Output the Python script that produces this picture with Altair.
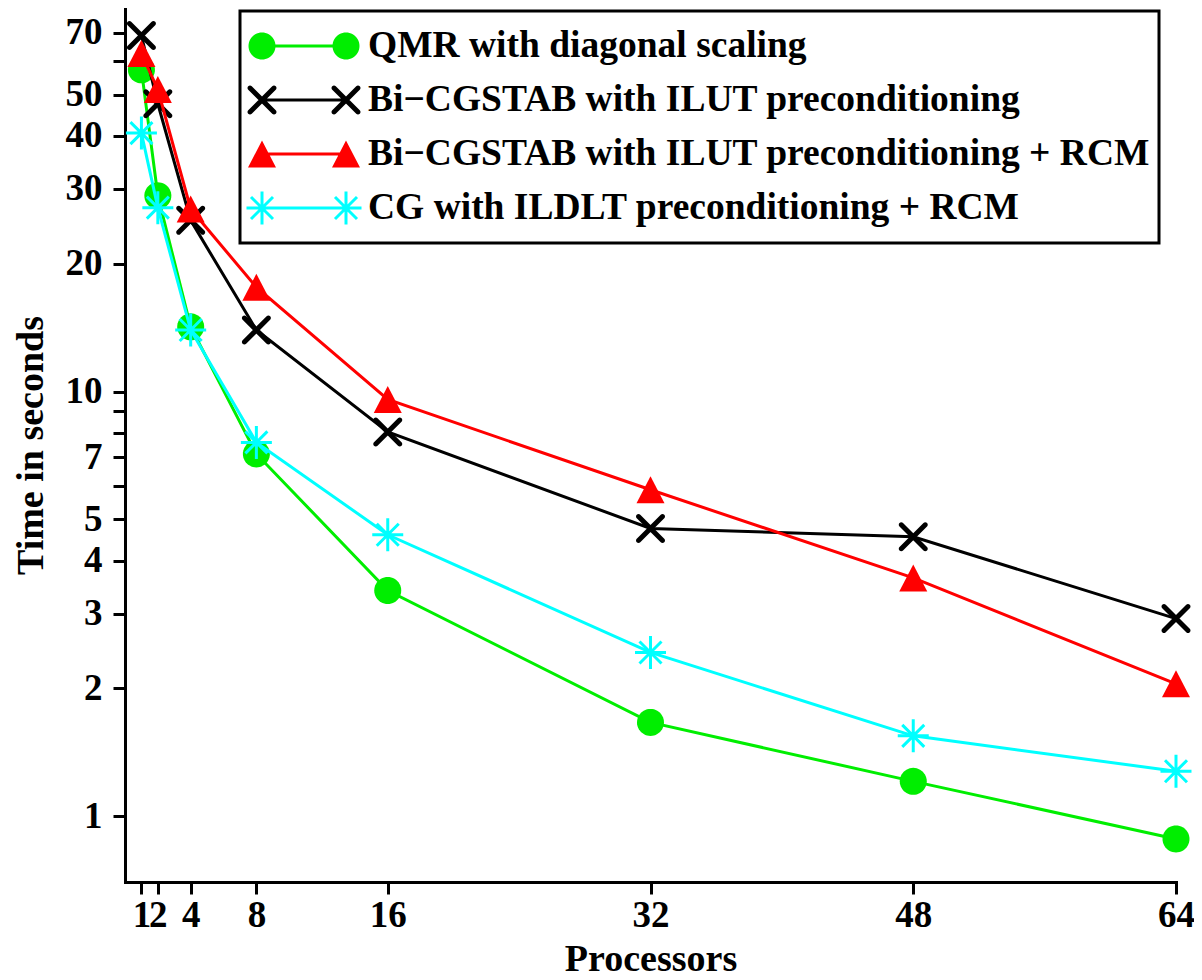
import math
import altair as alt
import pandas as pd

# ---------------- data ----------------
procs = [1, 2, 4, 8, 16, 32, 48, 64]
series_names = [
    "QMR with diagonal scaling",
    "Bi\u2212CGSTAB with ILUT preconditioning",
    "Bi\u2212CGSTAB with ILUT preconditioning + RCM",
    "CG with ILDLT preconditioning + RCM",
]
qmr = [57.2, 28.9, 14.2, 7.13, 3.40, 1.663, 1.208, 0.884]
bicg = [68.9, 47.6, 25.3, 13.96, 8.03, 4.76, 4.55, 2.92]
bicg_rcm = [62.5, 51.4, 26.9, 17.6, 9.58, 5.87, 3.64, 2.05]
cg = [40.6, 27.1, 13.96, 7.59, 4.60, 2.43, 1.546, 1.276]
series_values = [qmr, bicg, bicg_rcm, cg]
colors = ["#00EE00", "#000000", "#FF0000", "#00FFFF"]

y_tick_values = [1, 2, 3, 4, 5, 6, 7, 8, 9, 10, 20, 30, 40, 50, 60, 70]
y_tick_labeled = [1, 2, 3, 4, 5, 7, 10, 20, 30, 40, 50, 70]

rows = []
for name, vals in zip(series_names, series_values):
    for p, v in zip(procs, vals):
        rows.append({"series": name, "procs": p, "time": v})
df = pd.DataFrame(rows)

FONT = "Liberation Serif"

# ---------------- symbol paths ----------------
def capsule(p, q, w, m=8):
    dx, dy = q[0] - p[0], q[1] - p[1]
    L = math.hypot(dx, dy)
    dx, dy = dx / L, dy / L
    nx, ny = -dy, dx
    a = math.atan2(ny, nx)
    pts = []
    for k in range(m + 1):
        f = a - math.pi * k / m
        pts.append((q[0] + w * math.cos(f), q[1] + w * math.sin(f)))
    for k in range(m + 1):
        f = a - math.pi - math.pi * k / m
        pts.append((p[0] + w * math.cos(f), p[1] + w * math.sin(f)))
    return pts


def circle(cx, r=13.5, n=48):
    return [[(cx + r * math.cos(2 * math.pi * i / n), r * math.sin(2 * math.pi * i / n)) for i in range(n)]]


def xmark(cx, a=12.0, w=2.5):
    return [capsule((cx - a, -a), (cx + a, a), w), capsule((cx - a, a), (cx + a, -a), w)]


def tri(cx):
    return [[(cx, -13.5), (cx + 14, 13.5), (cx - 14, 13.5)]]


def aster(cx, w=1.5):
    return [
        capsule((cx, -16.5), (cx, 16.5), w, 1),
        capsule((cx - 15.5, 0), (cx + 15.5, 0), w, 1),
        capsule((cx - 11, -11), (cx + 11, 11), w, 1),
        capsule((cx - 11, 11), (cx + 11, -11), w, 1),
    ]


def to_path(polys, unit):
    parts = []
    for pts in polys:
        area = 0.0
        for i in range(len(pts)):
            x1, y1 = pts[i]
            x2, y2 = pts[(i + 1) % len(pts)]
            area += x1 * y2 - x2 * y1
        if area < 0:
            pts = pts[::-1]
        parts.append("M" + "L".join(f"{x / unit:.4f},{y / unit:.4f}" for x, y in pts) + "Z")
    return "".join(parts)


marker_funcs = [circle, xmark, tri, aster]

PLOT_UNIT = 14.0          # size 784 -> sqrt/2 = 14 px per unit
plot_paths = [to_path(f(0.0), PLOT_UNIT) for f in marker_funcs]

LEG_S = 54.0              # nominal legend symbol size (px) = legend row height
LEG_UNIT = LEG_S / 2
c1, c2 = -13.0, 71.0
legend_paths = []
for f in marker_funcs:
    polys = [capsule((c1, 0), (c2, 0), 1.5, 1)] + f(c1) + f(c2)
    path = to_path(polys, LEG_UNIT) + "M0,-1L0.001,-1ZM0,1L0.001,1Z"
    legend_paths.append(path)

# ---------------- chart ----------------
x_enc = alt.X(
    "procs:Q",
    scale=alt.Scale(domain=[0, 64], nice=False, zero=False),
    axis=alt.Axis(
        values=procs, title="Processors", format="d",
        labelOverlap=False, labelFlush=False, labelBound=False,
        labelPadding=3, titleX=525.5, titleY=88, titleAlign="center",
        titleBaseline="alphabetic",
    ),
)
y_enc = alt.Y(
    "time:Q",
    scale=alt.Scale(type="log", domain=[0.7, 80], nice=False),
    axis=alt.Axis(
        values=y_tick_values, title="Time in seconds", format="d",
        labelExpr="indexof(" + str(y_tick_labeled) + ", datum.value) >= 0 ? datum.label : ''",
        labelOverlap=False, labelFlush=False, labelBound=False,
        labelPadding=11, titleAngle=270, titleX=-83, titleY=437,
        titleAlign="center", titleBaseline="alphabetic",
    ),
)

layers = []
for name, col, path in zip(series_names, colors, plot_paths):
    base = alt.Chart(df).transform_filter(alt.datum.series == name)
    layers.append(base.mark_line(color=col, strokeWidth=3).encode(x=x_enc, y=y_enc))
    layers.append(
        base.mark_point(filled=True, shape=path, size=PLOT_UNIT * PLOT_UNIT * 4,
                        color=col, opacity=1, strokeWidth=0).encode(x=x_enc, y=y_enc)
    )

leg = alt.Legend(
    title=None, orient="none", legendX=115, legendY=3, padding=8,
    strokeColor="black", fillColor="white",
    labelFont=FONT, labelFontSize=37.5, labelFontWeight="bold", labelColor="black",
    labelOffset=66, labelLimit=2000, symbolSize=LEG_S * LEG_S,
    symbolStrokeWidth=0, symbolOpacity=1, rowPadding=-6.5, symbolOffset=0,
    labelBaseline="middle",
)
# legend-only layer: its points are pushed far above the plot and clipped away
legend_layer = (
    alt.Chart(df)
    .transform_calculate(time="datum.time * 1000000")
    .mark_point(filled=True, opacity=1, size=LEG_S * LEG_S, clip=True)
    .encode(
        x=x_enc, y=y_enc,
        color=alt.Color("series:N", scale=alt.Scale(domain=series_names, range=colors), legend=leg),
        shape=alt.Shape("series:N", scale=alt.Scale(domain=series_names, range=legend_paths), legend=leg),
    )
)
layers.append(legend_layer)

chart = (
    alt.layer(*layers)
    .properties(
        width=1051, height=874,
        padding={"left": 117, "top": 0, "right": 18, "bottom": 98},
        autosize=alt.AutoSizeParams(type="none"),
        background="white",
    )
    .configure_view(stroke=None)
    .configure_axis(
        grid=False, domainColor="black", domainWidth=3, domainCap="square",
        tickColor="black", tickWidth=3, tickSize=12,
        labelFont=FONT, labelFontSize=37, labelFontWeight="bold", labelColor="black",
        titleFont=FONT, titleFontSize=38, titleFontWeight="bold", titleColor="black",
    )
    .configure_legend(strokeWidth=3)
)

chart.save("out.html", embed_options={"renderer": "svg", "actions": False})
